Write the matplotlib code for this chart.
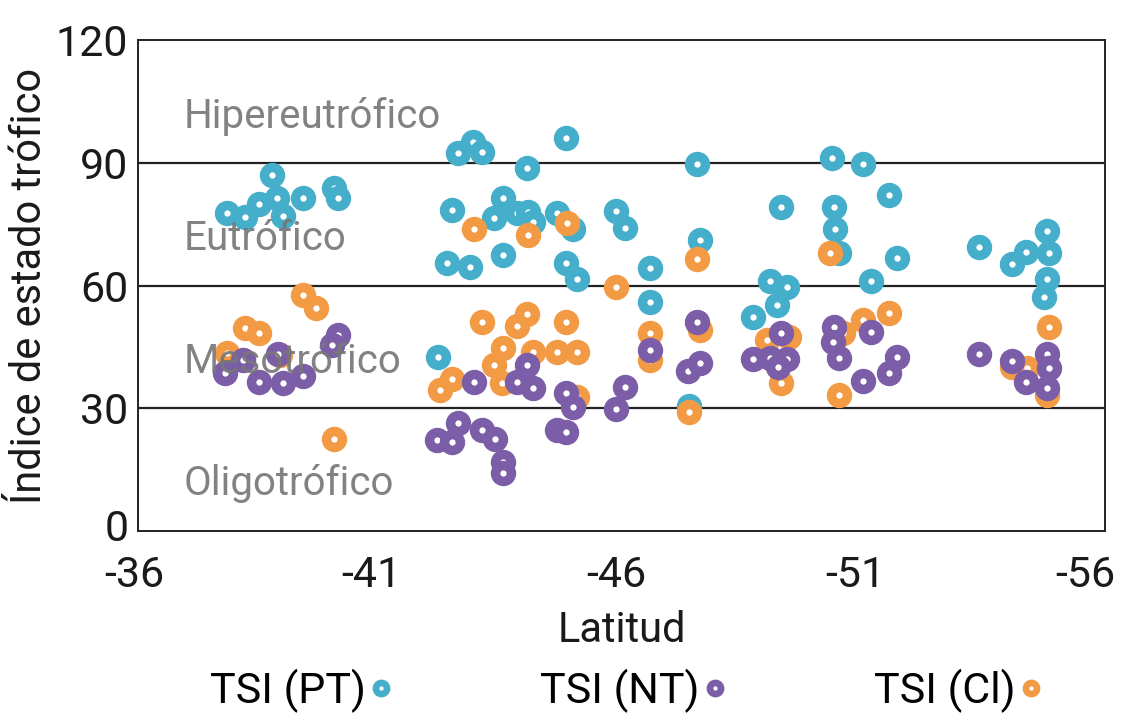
import matplotlib
matplotlib.use("Agg")
import matplotlib.pyplot as plt
import matplotlib.transforms as mtransforms
from matplotlib.lines import Line2D

plt.rcParams['font.family'] = ['Roboto', 'DejaVu Sans']
plt.rcParams['axes.unicode_minus'] = False

# TSI (PT) - fosforo total
lat_pt = [-37.84, -38.21, -38.50, -38.77, -38.87, -39.00, -39.41, -40.05, -40.14, -42.20,
          -42.62, -42.93, -43.11, -44.85, -44.05, -42.49, -43.55, -43.36, -43.84, -44.07,
          -44.17, -44.67, -45.00, -42.39, -42.87, -43.55, -44.85, -45.08, -45.89, -46.07,
          -47.56, -47.62, -46.59, -46.59, -47.40, -48.72, -50.35, -51.00, -51.53, -49.30,
          -50.40, -50.42, -50.50, -51.70, -49.07, -49.42, -49.22, -51.16, -53.39, -54.08,
          -54.37, -54.80, -54.84, -54.80, -54.74]
tsi_pt = [77.8, 76.8, 80.0, 87.0, 81.4, 77.0, 81.4, 83.9, 81.4, 42.5,
          92.4, 95.1, 92.7, 96.1, 88.8, 78.5, 81.4, 76.5, 77.8, 78.0,
          75.6, 77.8, 73.8, 65.5, 64.5, 67.5, 65.5, 61.6, 78.2, 74.1,
          89.7, 71.1, 64.3, 56.0, 30.6, 52.3, 91.2, 89.7, 82.2, 79.2,
          79.2, 73.8, 68.0, 66.7, 61.1, 59.7, 55.3, 61.1, 69.4, 65.3,
          68.2, 73.3, 68.0, 61.6, 57.2]

# TSI (Cl) - clorofila
lat_cl = [-39.41, -39.68, -38.21, -38.50, -37.84, -38.94, -40.05, -42.95, -44.07, -44.87,
          -45.89, -43.11, -43.84, -44.05, -44.85, -43.55, -43.36, -44.17, -44.67, -45.08,
          -42.49, -42.25, -43.53, -45.08, -47.56, -46.59, -46.59, -47.62, -47.40, -50.31,
          -51.53, -51.00, -49.00, -49.47, -49.30, -50.50, -50.58, -54.84, -54.08, -54.39,
          -54.80]
tsi_cl = [57.7, 54.5, 49.6, 48.4, 43.5, 43.0, 22.5, 73.8, 72.4, 75.3,
          59.7, 51.1, 50.1, 53.1, 51.1, 44.7, 40.6, 43.8, 43.8, 43.8,
          37.2, 34.5, 36.2, 32.8, 66.5, 48.4, 41.8, 49.1, 29.1, 68.0,
          53.3, 51.6, 46.7, 47.4, 36.2, 33.3, 48.4, 49.9, 40.1, 39.9,
          33.3]

# TSI (NT) - nitrogeno total
lat_nt = [-40.14, -40.01, -37.80, -38.17, -38.90, -38.50, -39.00, -39.41, -42.95, -44.05,
          -43.84, -44.17, -44.85, -45.00, -45.89, -46.07, -42.62, -42.18, -42.49, -43.11,
          -43.38, -43.55, -43.55, -44.67, -44.85, -47.56, -46.59, -47.38, -47.62, -48.72,
          -49.30, -49.07, -49.42, -49.24, -50.40, -50.37, -50.50, -51.16, -51.70, -51.53,
          -51.00, -53.39, -54.08, -54.37, -54.80, -54.84, -54.80]
tsi_nt = [47.9, 45.5, 38.6, 41.8, 43.3, 36.4, 36.2, 37.9, 36.4, 40.6,
          36.4, 35.0, 33.7, 30.3, 29.8, 35.2, 26.4, 22.2, 21.8, 24.7,
          22.5, 16.9, 14.2, 24.7, 24.2, 51.1, 44.3, 39.1, 41.1, 42.1,
          48.4, 42.3, 42.1, 40.1, 49.9, 46.2, 42.3, 48.7, 42.5, 38.6,
          36.7, 43.3, 41.6, 36.4, 43.3, 39.9, 35.0]

categories = ["Hipereutrófico", "Eutrófico", "Mesotrófico", "Oligotrófico"]
category_y = [98.5, 68.7, 38.6, 8.8]

c_pt = "#45aecb"
c_nt = "#7b5ea7"
c_cl = "#f39a45"

fig = plt.figure(figsize=(11.22, 7.16), dpi=100)
ax = fig.add_axes([0.123, 0.258, 0.862, 0.686])

ring = dict(s=132, facecolors="white", linewidths=6.8)
ax.scatter(lat_pt, tsi_pt, edgecolors=c_pt, zorder=3, **ring)
ax.scatter(lat_cl, tsi_cl, edgecolors=c_cl, zorder=4, **ring)
ax.scatter(lat_nt, tsi_nt, edgecolors=c_nt, zorder=5, **ring)

for lab, yy in zip(categories, category_y):
    ax.text(-36.95, yy, lab, fontsize=29, color="#777777", alpha=0.92,
            va="baseline", ha="left", zorder=6)

for yy in [30, 60, 90]:
    ax.axhline(yy, color="#222222", lw=1.6, zorder=1)

ax.set_xlim(-36, -56)
ax.set_ylim(0, 120)
ax.set_xticks([-36, -41, -46, -51, -56])
ax.set_yticks([0, 30, 60, 90, 120])
ax.tick_params(length=0, labelsize=31, labelcolor="#1a1a1a")
ax.tick_params(axis="x", pad=17)
ax.tick_params(axis="y", pad=7)
# labels sit a little to the left of their ticks, the last one more so
x_shifts = [-4, -8, -5, -8, -20]
for lbl, dx in zip(ax.get_xticklabels(), x_shifts):
    shift = mtransforms.ScaledTranslation(dx / 100, 0, fig.dpi_scale_trans)
    lbl.set_transform(lbl.get_transform() + shift)
zero_lbl = ax.get_yticklabels()[0]
zero_lbl.set_transform(zero_lbl.get_transform() +
                       mtransforms.ScaledTranslation(0, 6 / 100, fig.dpi_scale_trans))
for sp in ax.spines.values():
    sp.set_linewidth(1.4)
    sp.set_color("#222222")

ax.set_xlabel("Latitud", fontsize=30, labelpad=10, color="#1a1a1a")
ax.set_ylabel("Índice de estado trófico", fontsize=30, labelpad=4, color="#1a1a1a")

handles = [
    Line2D([], [], ls="", marker="o", ms=8, mfc="white", mec=c_pt, mew=4.8, label="TSI (PT)"),
    Line2D([], [], ls="", marker="o", ms=8, mfc="white", mec=c_nt, mew=4.8, label="TSI (NT)"),
    Line2D([], [], ls="", marker="o", ms=8, mfc="white", mec=c_cl, mew=4.8, label="TSI (Cl)"),
]
fig.legend(handles=handles, loc="center left", bbox_to_anchor=(0.16, 0.035), ncol=3,
           frameon=False, markerfirst=False, fontsize=31, columnspacing=3.4,
           handletextpad=0.05, handlelength=0.6, borderpad=0.2)

plt.savefig("out.png", dpi=100)
